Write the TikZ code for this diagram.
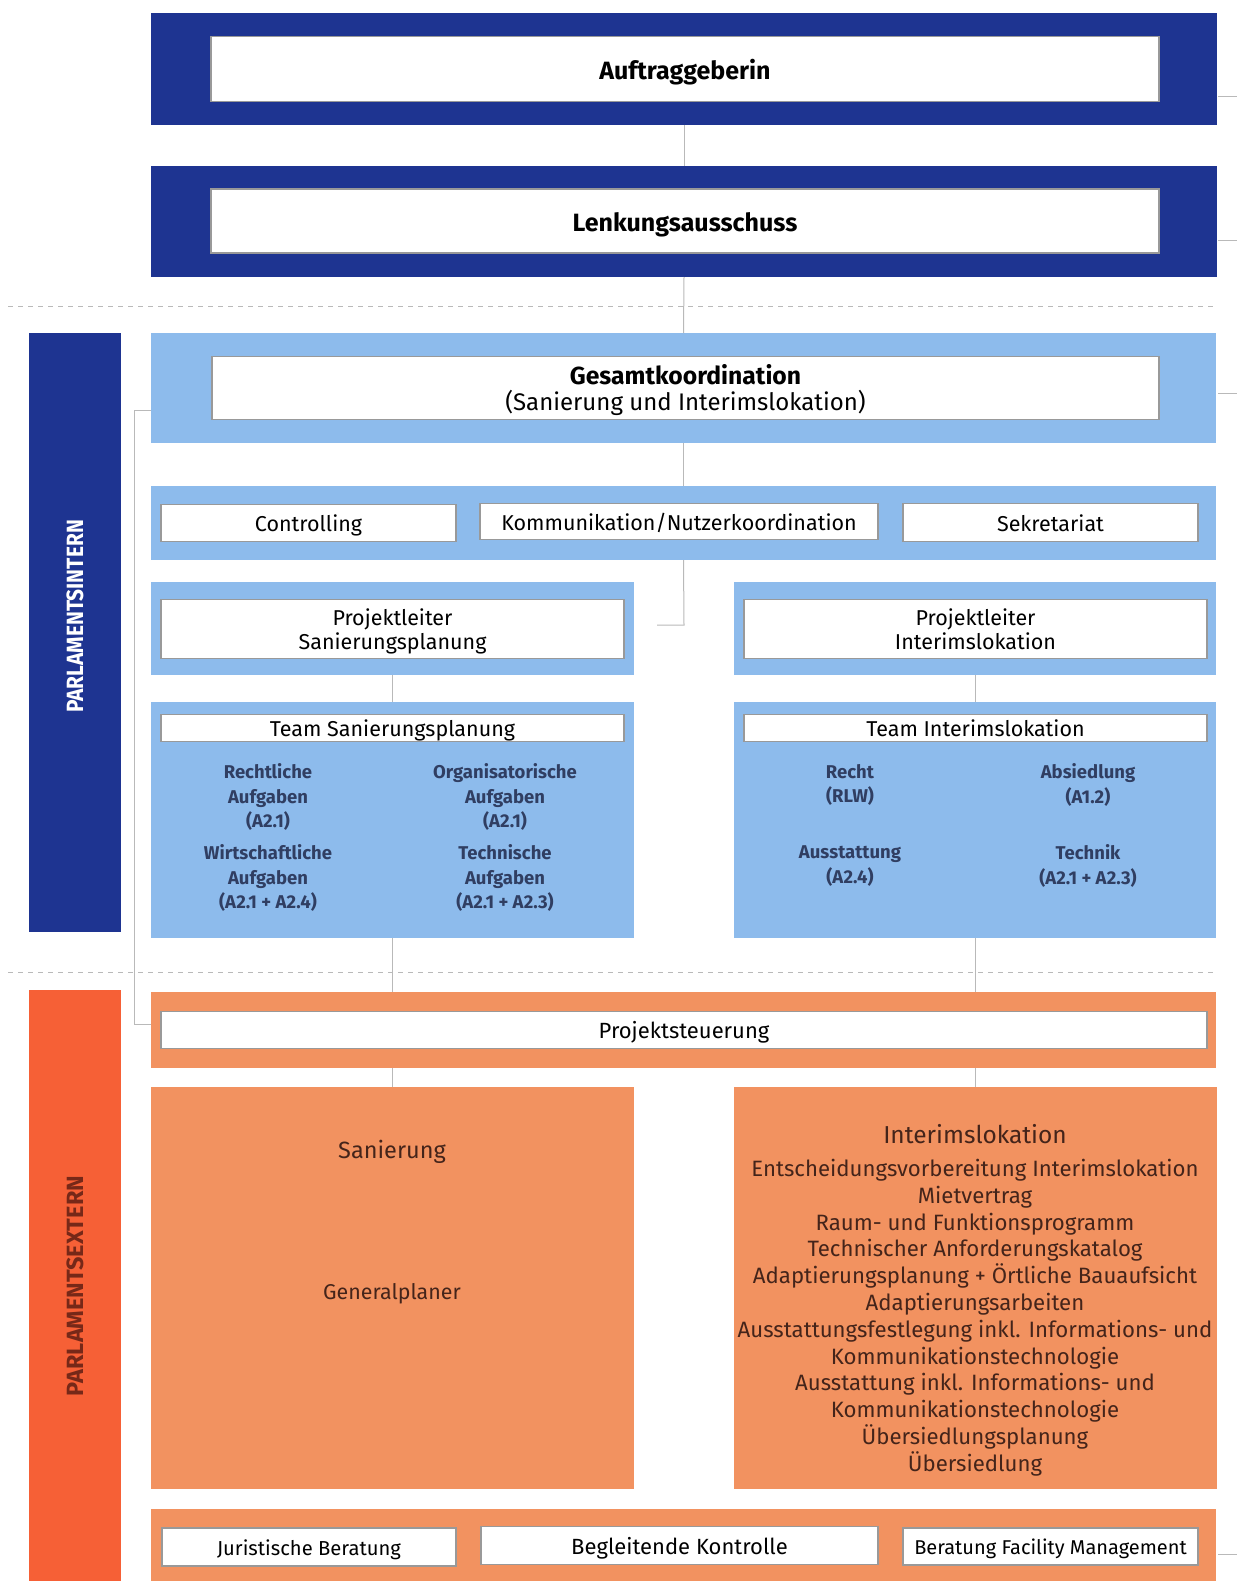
\documentclass[tikz,border=0pt]{standalone}
\usepackage{fontspec}
\setmainfont{Fira Sans}
\usepackage{tikz}
\usetikzlibrary{positioning}

\definecolor{parlblau}{RGB}{30,52,145}
\definecolor{hellblau}{RGB}{141,187,236}
\definecolor{extorange}{RGB}{242,146,96}
\definecolor{barorange}{RGB}{246,96,54}
\definecolor{teamtext}{RGB}{48,62,98}
\definecolor{braun}{RGB}{68,36,26}
\definecolor{braunrot}{RGB}{118,40,24}
\definecolor{linie}{RGB}{185,185,185}

\newcommand{\titelfont}{\fontsize{25}{29}\selectfont\bfseries}
\newcommand{\gesamtfont}{\fontsize{24}{26}\selectfont}
\newcommand{\boxfont}{\fontsize{21.5}{24}\selectfont}
\newcommand{\teamfont}{\fontsize{18.5}{24.5}\selectfont\bfseries}
\newcommand{\listfont}{\fontsize{22.2}{26.8}\selectfont}
\newcommand{\kleinfont}{\fontsize{20.2}{22}\selectfont}
\newcommand{\seitenfont}{\fontsize{23.5}{26}\selectfont\bfseries}
\newcommand{\hoch}{\rule[-0.23em]{0pt}{1.27em}}
\newcommand{\tief}{\rule[-0.23em]{0pt}{0pt}}

\tikzset{
  band/.style={draw=none, inner sep=0pt, outer sep=0pt},
  dunkel/.style={band, fill=parlblau},
  hell/.style={band, fill=hellblau},
  extband/.style={band, fill=extorange},
  wbox/.style={draw=gray!80, line width=1.2pt, fill=white, inner sep=0pt, align=center},
  teampunkt/.style={align=center, text=teamtext, font=\teamfont, inner sep=0pt},
  exttext/.style={align=center, text=braun, inner sep=0pt},
  link/.style={draw=linie, line width=1pt},
  trenn/.style={draw=gray!55, line width=1pt, dash pattern=on 5pt off 5pt}
}

\begin{document}
\begin{tikzpicture}[x=1pt,y=-1pt]
  \useasboundingbox (0,0) rectangle (1237,1581);

  % Auftraggeberin / Lenkungsausschuss
  \node[dunkel, minimum width=1066pt, minimum height=112pt] (aband) at (684,69) {};
  \node[wbox, minimum width=948pt, minimum height=65pt, font=\titelfont] (auftrag) at (685,69) {\hoch Auftraggeberin};
  \node[dunkel, minimum width=1066pt, minimum height=111pt] (lband) at (684,221.5) {};
  \node[wbox, minimum width=948pt, minimum height=64pt, font=\titelfont] (lenkung) at (685,221) {\hoch Lenkungsausschuss};

  \draw[trenn] (8,306) -- (1215,306);
  \draw[trenn] (8,972) -- (1215,972);

  % parlamentsintern
  \node[dunkel, minimum width=92pt, minimum height=599pt] (internbar) at (75,632.5) {};
  \node[rotate=90, text=white, font=\seitenfont] (interntext) at (75,616.5) {\scalebox{0.89}[1]{PARLAMENTSINTERN}};

  \node[hell, minimum width=1065pt, minimum height=110pt] (gband) at (683.5,388) {};
  \node[wbox, minimum width=947pt, minimum height=63pt, font=\gesamtfont] (gesamt) at (685.5,388)
    {\hoch{\fontsize{24.7}{26}\selectfont\bfseries Gesamtkoordination}\\(Sanierung und Interimslokation)\tief};

  \node[hell, minimum width=1065pt, minimum height=74pt] (rowband) at (683.5,523) {};
  \node[wbox, minimum width=295pt, minimum height=37pt, font=\boxfont] (controlling) at (308.5,523) {\hoch Controlling};
  \node[wbox, minimum width=398pt, minimum height=36pt, font=\boxfont] (kommunikation) at (679,521.5) {\hoch Kommunikation/Nutzerkoordination};
  \node[wbox, minimum width=295pt, minimum height=38pt, font=\boxfont] (sekretariat) at (1050.5,522.5) {\hoch Sekretariat};

  \node[hell, minimum width=483pt, minimum height=93pt] (plbandS) at (392.5,628.5) {};
  \node[wbox, minimum width=463pt, minimum height=59pt, font=\boxfont] (plS) at (392.5,629) {\hoch Projektleiter\\Sanierungsplanung\tief};
  \node[hell, minimum width=482pt, minimum height=93pt] (plbandI) at (975,628.5) {};
  \node[wbox, minimum width=463pt, minimum height=59pt, font=\boxfont] (plI) at (975.5,629) {\hoch Projektleiter\\Interimslokation\tief};

  \node[hell, minimum width=483pt, minimum height=236pt] (teambandS) at (392.5,820) {};
  \node[wbox, minimum width=463pt, minimum height=27pt, font=\boxfont] (teamS) at (392.5,728) {\hoch Team Sanierungsplanung};
  \node[teampunkt] (rechtS) at (268,797) {Rechtliche\\Aufgaben\\(A2.1)};
  \node[teampunkt] (orgS) at (505,797) {Organisatorische\\Aufgaben\\(A2.1)};
  \node[teampunkt] (wirtS) at (268,878) {Wirtschaftliche\\Aufgaben\\(A2.1 + A2.4)};
  \node[teampunkt] (techS) at (505,878) {Technische\\Aufgaben\\(A2.1 + A2.3)};

  \node[hell, minimum width=482pt, minimum height=236pt] (teambandI) at (975,820) {};
  \node[wbox, minimum width=463pt, minimum height=27pt, font=\boxfont] (teamI) at (975.5,728) {\hoch Team Interimslokation};
  \node[teampunkt] (rechtI) at (850,785) {Recht\\(RLW)};
  \node[teampunkt] (absI) at (1088,785) {Absiedlung\\(A1.2)};
  \node[teampunkt] (ausI) at (850,866) {Ausstattung\\(A2.4)};
  \node[teampunkt] (techI) at (1088,866) {Technik\\(A2.1 + A2.3)};

  % parlamentsextern
  \node[band, fill=barorange, minimum width=92pt, minimum height=591pt] (externbar) at (75,1285.5) {};
  \node[rotate=90, text=braunrot, font=\seitenfont] (externtext) at (75,1286) {PARLAMENTSEXTERN};

  \node[extband, minimum width=1065pt, minimum height=76pt] (psband) at (683.5,1030) {};
  \node[wbox, minimum width=1046pt, minimum height=37pt, font=\fontsize{22}{24}\selectfont] (steuerung) at (684,1030) {\hoch Projektsteuerung};

  \node[extband, minimum width=483pt, minimum height=402pt] (san) at (392.5,1288) {};
  \node[exttext, font=\fontsize{23.5}{27}\selectfont] (sanT) at (392,1152) {Sanierung};
  \node[exttext, font=\fontsize{21.4}{24}\selectfont] (sanG) at (392,1294) {Generalplaner};

  \node[extband, minimum width=483pt, minimum height=402pt] (interim) at (975.5,1288) {};
  \node[exttext, font=\fontsize{24.5}{27}\selectfont] (interimT) at (975,1134) {Interimslokation};
  \node[exttext, font=\listfont] (interimL) at (975,1317.5) {Entscheidungsvorbereitung Interimslokation\\
    Mietvertrag\\
    Raum- und Funktionsprogramm\\
    Technischer Anforderungskatalog\\
    Adaptierungsplanung + Örtliche Bauaufsicht\\
    Adaptierungsarbeiten\\
    Ausstattungsfestlegung inkl. Informations- und\\
    Kommunikationstechnologie\\
    Ausstattung inkl. Informations- und\\
    Kommunikationstechnologie\\
    Übersiedlungsplanung\\
    Übersiedlung};

  \node[extband, minimum width=1065pt, minimum height=72pt] (bband) at (683.5,1545) {};
  \node[wbox, minimum width=294pt, minimum height=38pt, font=\kleinfont] (juristisch) at (309,1547) {\hoch Juristische Beratung};
  \node[wbox, minimum width=397pt, minimum height=38pt, font=\fontsize{22}{24}\selectfont] (kontrolle) at (679.5,1545.5) {\hoch Begleitende Kontrolle};
  \node[wbox, minimum width=295pt, minimum height=37pt, font=\fontsize{20}{22}\selectfont] (facility) at (1050.5,1546.5) {\hoch Beratung Facility Management};

  % Verbindungen
  \coordinate (knick) at (684,625);
  \draw[link] (aband.south) -- (lband.north);
  \draw[link] (lband.south) -- (gband.north);
  \draw[link] (gband.south) -- (rowband.north);
  \draw[link] (rowband.south) -- (knick) -- ++(-27,0);
  \draw[link] (gband.west) ++(0,22) -- ++(-17,0) |- ([yshift=6pt]psband.west);
  \draw[link] (plbandS.south) -- (teambandS.north);
  \draw[link] (teambandS.south) -- (teambandS.south |- psband.north);
  \draw[link] (psband.south -| san.north) -- (san.north);
  \draw[link] (plbandI.south) -- (teambandI.north);
  \draw[link] (teambandI.south) -- (teambandI.south |- psband.north);
  \draw[link] (psband.south -| interim.north) -- (interim.north);
  \foreach \y in {97,240,393,1554}
    \draw[link] (1218,\y) -- (1237,\y);
\end{tikzpicture}
\end{document}
